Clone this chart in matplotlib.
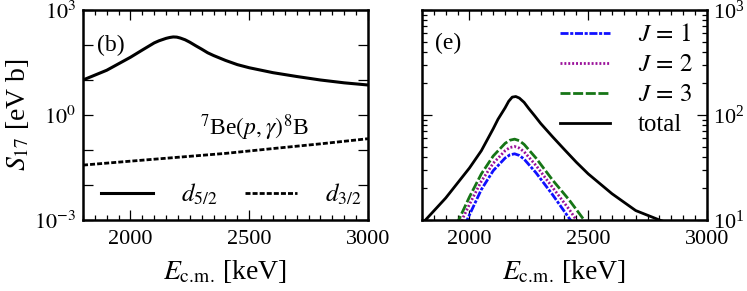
import numpy as np
import matplotlib
matplotlib.use('Agg')
import matplotlib.pyplot as plt
from matplotlib.ticker import LogLocator, NullFormatter, FixedLocator, MultipleLocator

# ---- data (E in keV, S17 in eV b) ----
E_d52 = [1800, 1900, 2000, 2050, 2100, 2120, 2150, 2165, 2180, 2195, 2210, 2230, 2250, 2275, 2300,
         2325, 2350, 2400, 2450, 2500, 2600, 2700, 2800, 2900, 3000]
S_d52 = [10.0, 19.0, 44.7, 72.0, 115, 132, 155, 164, 170, 168, 158, 141, 120, 95, 76,
         60, 50, 36.3, 27.5, 22.4, 16.2, 12.6, 10.0, 8.3, 7.2]

E_d32 = [1800, 2000, 2200, 2400, 2600, 2800, 3000]
S_d32 = [0.037, 0.048, 0.062, 0.080, 0.11, 0.15, 0.21]

E_tot = [1800, 1900, 2000, 2050, 2100, 2120, 2150, 2165, 2180, 2195, 2210, 2230, 2250, 2275, 2300,
         2350, 2400, 2450, 2500, 2600, 2700, 2800, 2900, 3000]
S_tot = [9.2, 16.2, 31.3, 45.7, 74, 91, 117, 135, 148, 150, 145, 132, 115, 98, 83,
         62, 46.8, 35.5, 27.5, 17.8, 12.3, 10.0, 8.3, 7.1]

E_J3 = [1900, 1950, 2000, 2050, 2100, 2150, 2170, 2190, 2210, 2230, 2280, 2350, 2420, 2490, 2550]
S_J3 = [5.4, 9.5, 16.6, 27.5, 40.7, 53.7, 57.5, 58.9, 56.9, 52.5, 38.9, 24.0, 15.5, 9.5, 6.3]

E_J2 = [1900, 1970, 2000, 2050, 2100, 2150, 2170, 2190, 2210, 2230, 2280, 2350, 2420, 2450, 2550]
S_J2 = [4.5, 10.2, 14.1, 23.4, 34.7, 45.7, 49.0, 50.1, 48.4, 44.7, 33.1, 20.4, 12.6, 10.0, 5.0]

E_J1 = [1900, 1990, 2000, 2050, 2100, 2150, 2170, 2190, 2210, 2230, 2280, 2350, 2425, 2550]
S_J1 = [3.8, 10.0, 11.2, 19.5, 29.5, 38.9, 41.7, 42.7, 41.2, 38.0, 28.2, 17.4, 10.0, 4.2]

plt.rcParams['font.family'] = 'serif'
plt.rcParams['font.serif'] = ['Liberation Serif', 'DejaVu Serif']
plt.rcParams['mathtext.fontset'] = 'stix'
plt.rcParams['font.size'] = 16
plt.rcParams['axes.labelsize'] = 20
plt.rcParams['legend.fontsize'] = 18
plt.rcParams['lines.scale_dashes'] = False
plt.rcParams['axes.linewidth'] = 1.8

fig = plt.figure(figsize=(7.47, 2.91), dpi=100)
ax1 = fig.add_axes([0.1111, 0.244, 0.3815, 0.7216])
ax2 = fig.add_axes([0.5649, 0.244, 0.3815, 0.7216])

for ax in (ax1, ax2):
    ax.set_yscale('log')
    ax.set_xlim(1800, 3000)
    ax.xaxis.set_major_locator(FixedLocator([2000, 2500, 3000]))
    ax.xaxis.set_minor_locator(MultipleLocator(50))
    ax.tick_params(which='both', direction='in', top=True, right=True, width=0.9)
    ax.tick_params(which='major', length=7, pad=7)
    ax.tick_params(which='minor', length=3.5)
    ax.set_xlabel(r'$E_{\rm c.\!m.\!}$ [keV]', labelpad=7)

# left panel
ax1.plot(E_d52, S_d52, color='k', lw=2.2, label=r'$d_{5/2}$')
ax1.plot(E_d32, S_d32, color='k', lw=2.0, dashes=(3.6, 1.5), label=r'$d_{3/2}$')
ax1.set_ylim(1e-3, 1e3)
ax1.yaxis.set_major_locator(FixedLocator([1e-3, 1e-2, 1e-1, 1e0, 1e1, 1e2, 1e3]))
ax1.set_yticklabels([r'$10^{-3}$', '', '', r'$10^{0}$', '', '', r'$10^{3}$'])
ax1.yaxis.set_minor_locator(FixedLocator([]))
ax1.tick_params(axis='y', pad=5)
ax1.set_ylabel(r'$S_{17}$ [eV b]', labelpad=2)
ax1.text(0.05, 0.83, '(b)', transform=ax1.transAxes, va='center', ha='left', fontsize=17)
ax1.text(0.41, 0.44, r'$^{7}$Be$(p,\gamma)^{8}$B', transform=ax1.transAxes, va='center', ha='left',
         fontsize=17)
ax1.legend(loc='lower center', ncol=2, frameon=False, handlelength=2.1,
           handletextpad=1.1, columnspacing=1.1, borderaxespad=0.1,
           bbox_to_anchor=(0.52, 0.0))

# right panel
ax2.plot(E_J1, S_J1, color='#1010ff', lw=2.0, dashes=(5.8, 1.2, 2.2, 1.2), label=r'$J\,=\,1$')
ax2.plot(E_J2, S_J2, color='#9a109a', lw=2.0, dashes=(1.4, 1.4), label=r'$J\,=\,2$')
ax2.plot(E_J3, S_J3, color='#167516', lw=2.0, dashes=(7.2, 1.9), label=r'$J\,=\,3$')
ax2.plot(E_tot, S_tot, color='k', lw=2.0, label='total')
ax2.set_ylim(10, 1000)
ax2.yaxis.set_major_locator(LogLocator(base=10))
ax2.yaxis.set_minor_locator(LogLocator(base=10, subs=np.arange(2, 10)))
ax2.yaxis.set_minor_formatter(NullFormatter())
ax2.tick_params(axis='y', which='both', labelleft=False, labelright=True, pad=4)
ax2.text(0.046, 0.84, '(e)', transform=ax2.transAxes, va='center', ha='left', fontsize=17)
ax2.legend(loc='upper right', frameon=False, handlelength=2.0, handletextpad=1.1,
           labelspacing=0.3, borderaxespad=0.15)

fig.savefig('out.png', dpi=100)
